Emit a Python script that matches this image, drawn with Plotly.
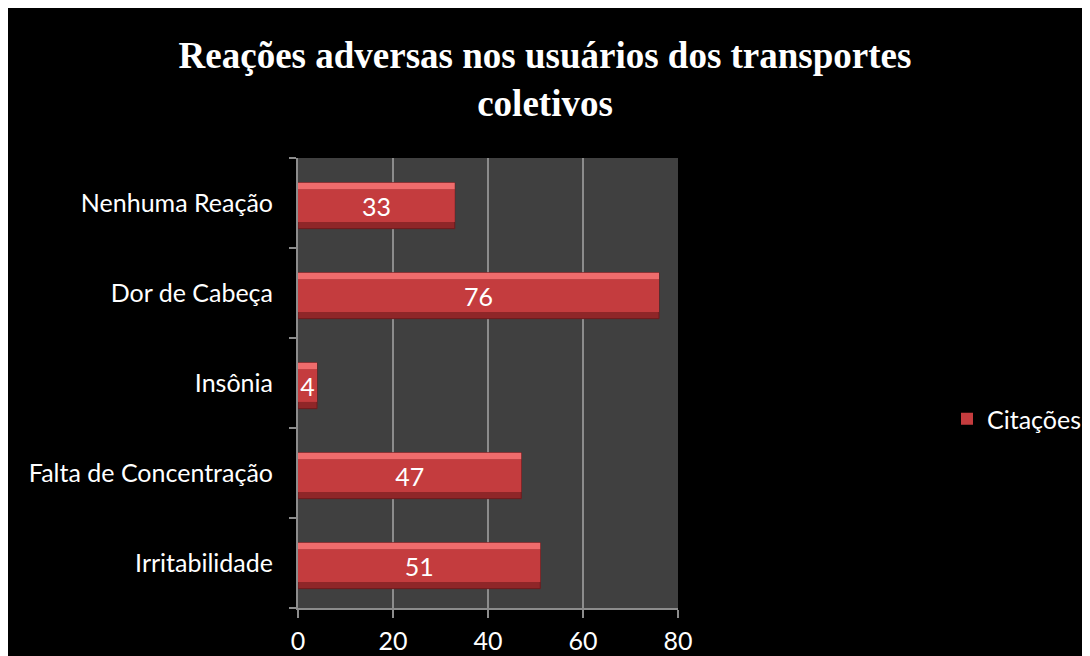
import plotly.graph_objects as go

categories = ["Irritabilidade", "Falta de Concentração", "Insônia", "Dor de Cabeça", "Nenhuma Reação"]
citacoes = [51, 47, 4, 76, 33]
x_ticks = [0, 20, 40, 60, 80]
series_name = "Citações"
title_text = "Reações adversas nos usuários dos transportes<br>coletivos"

# page has an 8px body margin, so the figure is drawn 8px in from the window's top-left
W, H = 1082, 648
L, R, T, B = 290, 412, 150, 48

bar_w = 0.51
band = 0.075

fig = go.Figure()
# dark base (bottom bevel)
fig.add_trace(go.Bar(y=categories, x=citacoes, orientation="h", width=bar_w, offset=-bar_w / 2 - 0.03,
                     marker=dict(color="#8f2628", line=dict(color="#6e1a1c", width=1)),
                     showlegend=False, hoverinfo="skip"))
# light top bevel
fig.add_trace(go.Bar(y=categories, x=citacoes, orientation="h", width=band, offset=bar_w / 2 - band - 0.03,
                     marker=dict(color="#ef6c6c", line=dict(width=0)),
                     showlegend=False, hoverinfo="skip"))
# main face with labels
fig.add_trace(go.Bar(y=categories, x=citacoes, orientation="h", name=series_name,
                     width=bar_w - 2 * band, offset=-bar_w / 2 + band - 0.03,
                     marker=dict(color="#c43c3e", line=dict(width=0)),
                     text=[str(v) for v in citacoes], textposition="inside", textangle=0,
                     insidetextanchor="middle", constraintext="none",
                     textfont=dict(family="Lato", size=25, color="white")))

fig.update_layout(
    width=W, height=H,
    margin=dict(l=L, r=R, t=T, b=B, pad=0, autoexpand=False),
    paper_bgcolor="black",
    plot_bgcolor="#404040",
    barmode="overlay",
    title=dict(text=title_text, x=0.5 - 4 / W, xanchor="center", xref="container",
               y=1 - 60 / H, yanchor="top", yref="container",
               font=dict(family="Liberation Serif", size=37, color="white", weight="bold")),
    legend=dict(x=939 / W, y=1 - 411 / H, xref="container", yref="container",
                xanchor="left", yanchor="middle",
                font=dict(family="Lato", size=25, color="white"), bgcolor="rgba(0,0,0,0)",
                itemwidth=30),
    xaxis=dict(range=[0, 80], tickvals=x_ticks, showgrid=True, gridcolor="#8c8c8c", gridwidth=2,
               showline=True, linecolor="#8c8c8c", linewidth=2, ticks="outside", ticklen=8,
               tickcolor="#8c8c8c", tickwidth=2, zeroline=False, automargin=False,
               tickfont=dict(family="Lato", size=25, color="white"), ticklabelstandoff=2,
               fixedrange=True),
    yaxis=dict(type="category", showgrid=False, showline=True, linecolor="#8c8c8c", linewidth=2,
               ticks="outside", tickson="boundaries", ticklen=7, tickcolor="#8c8c8c", tickwidth=2,
               automargin=False,
               tickfont=dict(family="Lato", size=25, color="white"), ticklabelstandoff=18),
)

fig.write_html("out.html")
